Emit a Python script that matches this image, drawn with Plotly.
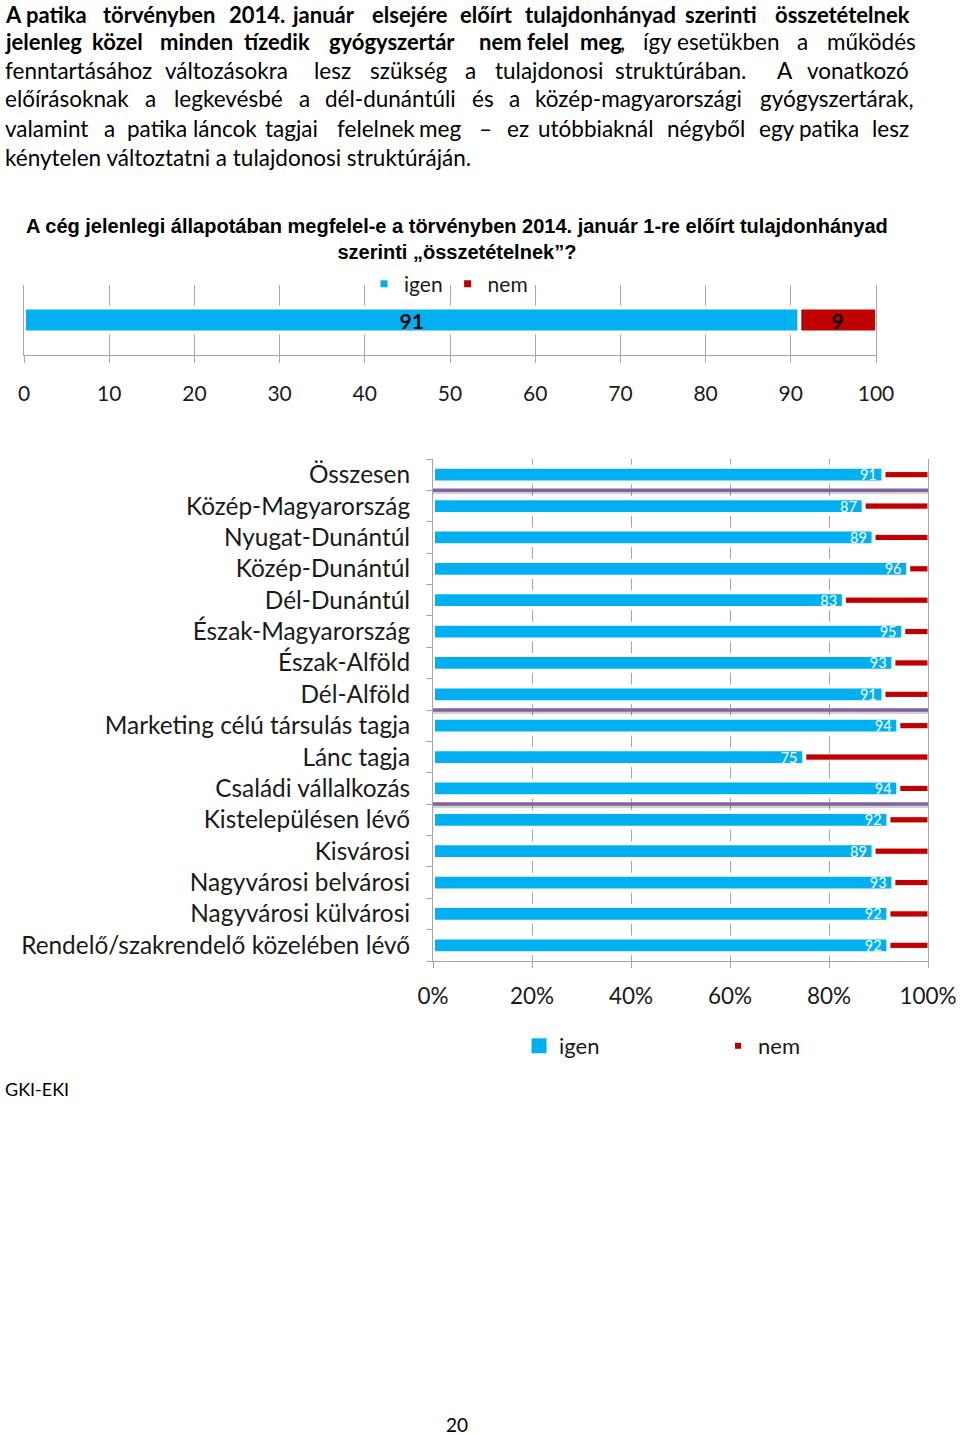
import plotly.graph_objects as go

W, H = 960, 1435

# ---------------- data ----------------
top_category = ["Összesen"]
top_igen = [91]
top_nem = [9]

categories = [
    "Összesen", "Közép-Magyarország", "Nyugat-Dunántúl", "Közép-Dunántúl",
    "Dél-Dunántúl", "Észak-Magyarország", "Észak-Alföld", "Dél-Alföld",
    "Marketing célú társulás tagja", "Lánc tagja", "Családi vállalkozás",
    "Kistelepülésen lévő", "Kisvárosi", "Nagyvárosi belvárosi",
    "Nagyvárosi külvárosi", "Rendelő/szakrendelő közelében lévő",
]
igen = [91, 87, 89, 96, 83, 95, 93, 91, 94, 75, 94, 92, 89, 93, 92, 92]
nem = [9, 13, 11, 4, 17, 5, 7, 9, 6, 25, 6, 8, 11, 7, 8, 8]
group_ends = ["Összesen", "Dél-Alföld", "Családi vállalkozás"]

x_ticks_top = list(range(0, 101, 10))
x_ticks_bottom = [0, 20, 40, 60, 80, 100]
x_ticklabels_bottom = ["0%", "20%", "40%", "60%", "80%", "100%"]

series_names = ["igen", "nem"]

# ---------------- style ----------------
BLUE = "#00B0F0"
RED = "#C00000"
GRID = "#A6A6A6"
TXT = "#1a1a1a"
CAL = "Lato, Carlito, sans-serif"
ARIAL = "Liberation Sans, Arial, sans-serif"
PARA_SIZE = 22.5
PARA_BOLD_SIZE = 22


def px(p):
    return p / W


def py(p):
    return 1 - p / H


fig = go.Figure()

# ---- top chart ----
fig.add_trace(go.Bar(
    y=top_category, x=top_nem, base=top_igen, orientation="h", width=0.33,
    marker=dict(color=RED, line=dict(color="white", width=2)),
    text=[str(v) for v in top_nem], textposition="inside", insidetextanchor="middle",
    textangle=0, constraintext="none",
    textfont=dict(family=CAL, size=21, color="black", weight="bold"),
    xaxis="x", yaxis="y", showlegend=False, hoverinfo="skip",
))
fig.add_trace(go.Bar(
    y=top_category, x=top_igen, base=[0] * len(top_igen), orientation="h", width=0.36,
    marker=dict(color=BLUE, line=dict(color="white", width=4)),
    text=[str(v) for v in top_igen], textposition="inside", insidetextanchor="middle",
    textangle=0, constraintext="none",
    textfont=dict(family=CAL, size=21, color="black", weight="bold"),
    xaxis="x", yaxis="y", showlegend=False, hoverinfo="skip",
))

# ---- bottom chart ----
fig.add_trace(go.Bar(
    y=list(range(len(categories))), x=nem, base=igen, orientation="h", width=0.2,
    marker=dict(color=RED, line=dict(color="white", width=1)),
    xaxis="x2", yaxis="y2", showlegend=False, hoverinfo="skip",
))
fig.add_trace(go.Bar(
    y=list(range(len(categories))), x=igen, base=[0] * len(igen), orientation="h", width=0.5,
    marker=dict(color=BLUE, line=dict(color="white", width=4)),
    text=[f"{v}\u00a0" for v in igen], textposition="inside", insidetextanchor="end",
    textangle=0, constraintext="none",
    textfont=dict(family=CAL, size=14.5, color="white"),
    xaxis="x2", yaxis="y2", showlegend=False, hoverinfo="skip",
))

# ---- legend entries ----
for name, col, sz in zip(series_names, [BLUE, RED], [7, 7]):
    fig.add_trace(go.Scatter(x=[None], y=[None], mode="markers", name=name,
                             marker=dict(symbol="square", size=sz, color=col),
                             xaxis="x", yaxis="y", legend="legend", hoverinfo="skip"))
for name, col, sz in zip(series_names, [BLUE, RED], [15, 6]):
    fig.add_trace(go.Scatter(x=[None], y=[None], mode="markers", name=name,
                             marker=dict(symbol="square", size=sz, color=col),
                             xaxis="x2", yaxis="y2", legend="legend2", hoverinfo="skip"))

# ---- separators ----
shapes = []
for g in group_ends:
    yv = categories.index(g) + 0.5
    shapes.append(dict(type="line", xref="x2", yref="y2", x0=0, x1=100.4,
                       ysizemode="pixel", yanchor=yv, y0=-2.5, y1=-2.5,
                       line=dict(color="rgba(0,0,0,0.18)", width=3), layer="above"))
    shapes.append(dict(type="line", xref="x2", yref="y2", x0=0, x1=100.4, y0=yv, y1=yv,
                       line=dict(color="#7F63A1", width=3.5), layer="above"))

# ---- paragraph text (justified: each word at its place) ----
para_lines = [
    (12, [("A", 3), ("patika", 24), ("törvényben", 101), ("2014.", 227),
          ("január", 290), ("elsejére", 370), ("előírt", 458),
          ("tulajdonhányad", 523), ("szerinti", 683), ("összetételnek", 773)], 10),
    (41, [("jelenleg", 3), ("közel", 90), ("minden", 158), ("tízedik", 242),
          ("gyógyszertár", 327), ("nem", 477), ("felel", 525), ("meg", 578),
          (",", 618), ("így", 641), ("esetükben", 675), ("a", 795), ("működés", 825)], 8),
    (70, [("fenntartásához", 3), ("változásokra", 163), ("lesz", 312), ("szükség", 368),
          ("a", 463), ("tulajdonosi", 493), ("struktúrában.", 613), ("A", 775),
          ("vonatkozó", 805)], 0),
    (99, [("előírásoknak", 3), ("a", 143), ("legkevésbé", 172), ("a", 297),
          ("dél-dunántúli", 323), ("és", 470), ("a", 507), ("közép-magyarországi", 533),
          ("gyógyszertárak,", 758)], 0),
    (128, [("valamint", 3), ("a", 102), ("patika", 125), ("láncok", 191), ("tagjai", 263),
           ("felelnek", 335), ("meg", 417), ("–", 477), ("ez", 505), ("utóbbiaknál", 536),
           ("négyből", 665), ("egy", 757), ("patika", 797), ("lesz", 870)], 0),
    (157, [("kénytelen változtatni a tulajdonosi struktúráján.", 3)], 0),
]
annotations = []
for yy, words, nbold in para_lines:
    for i, (w, xx) in enumerate(words):
        bold = i < nbold
        annotations.append(dict(
            text=w, x=px(xx), y=py(max(yy, 14)), xref="paper", yref="paper",
            xanchor="left", yanchor="middle", showarrow=False,
            font=dict(family=CAL, size=PARA_BOLD_SIZE if bold else PARA_SIZE, color="black",
                      weight="bold" if bold else "normal")))

annotations.append(dict(
    text="A cég jelenlegi állapotában megfelel-e a törvényben 2014. január 1-re előírt tulajdonhányad<br>szerinti „összetételnek”?",
    x=px(457), y=py(239), xref="paper", yref="paper", xanchor="center", yanchor="middle",
    showarrow=False, align="center", font=dict(family=ARIAL, size=20, color="black", weight="bold")))
annotations.append(dict(text="GKI-EKI", x=px(3), y=py(1089), xref="paper", yref="paper",
                        xanchor="left", yanchor="middle", showarrow=False,
                        font=dict(family=CAL, size=18, color="black")))
annotations.append(dict(text="20", x=px(457), y=py(1424), xref="paper", yref="paper",
                        xanchor="center", yanchor="middle", showarrow=False,
                        font=dict(family=CAL, size=19, color="black")))

fig.update_layout(
    width=W, height=H, margin=dict(l=0, r=0, t=0, b=0, autoexpand=False),
    paper_bgcolor="white", plot_bgcolor="white",
    barmode="overlay",
    shapes=shapes, annotations=annotations,
    xaxis=dict(domain=[px(24), px(876)], range=[0, 100], anchor="y", automargin=False,
               tickvals=x_ticks_top, showgrid=True, gridcolor=GRID, gridwidth=1,
               showline=True, linecolor=GRID, ticks="outside", ticklen=7, tickcolor=GRID,
               tickfont=dict(family=CAL, size=21, color=TXT), ticklabelstandoff=13,
               zeroline=False, fixedrange=True),
    yaxis=dict(domain=[py(355), py(285)], range=[-0.5, 0.5], anchor="x", type="category",
               automargin=False,
               showticklabels=False, showgrid=False, showline=True, mirror=True,
               linecolor=GRID, ticks="", zeroline=False),
    xaxis2=dict(domain=[px(433), px(928)], range=[0, 100], anchor="y2", automargin=False,
                tickvals=x_ticks_bottom, ticktext=x_ticklabels_bottom,
                showgrid=True, gridcolor=GRID, gridwidth=1,
                showline=True, linecolor=GRID, ticks="outside", ticklen=6, tickcolor=GRID,
                tickfont=dict(family=CAL, size=22.5, color=TXT), ticklabelstandoff=9,
                zeroline=False),
    yaxis2=dict(domain=[py(961), py(459)], range=[len(categories) - 0.5, -0.5], anchor="x2",
                automargin=False,
                tickvals=list(range(len(categories))), ticktext=categories,
                showgrid=False, showline=True, mirror=True, linecolor=GRID, ticks="",
                minor=dict(tickmode="array", tickvals=[i - 0.5 for i in range(len(categories) + 1)],
                           ticks="outside", ticklen=6, tickcolor=GRID, showgrid=False),
                tickfont=dict(family=CAL, size=24.4, color=TXT), ticklabelstandoff=17,
                zeroline=False),
    legend=dict(orientation="h", x=px(364), y=py(284), xanchor="left", yanchor="middle",
                bgcolor="rgba(0,0,0,0)", font=dict(family=CAL, size=21, color=TXT),
                itemwidth=30, tracegroupgap=0),
    legend2=dict(orientation="h", x=px(519), y=py(1046), xanchor="left", yanchor="middle",
                 bgcolor="rgba(0,0,0,0)", font=dict(family=CAL, size=22, color=TXT),
                 entrywidth=154, entrywidthmode="pixels", itemwidth=30),
)

fig.write_html(
    "out.html",
    config={"displayModeBar": False, "staticPlot": True},
    post_script="document.body.style.margin='0';document.body.style.padding='0';"
                "document.documentElement.style.overflow='hidden';",
)
